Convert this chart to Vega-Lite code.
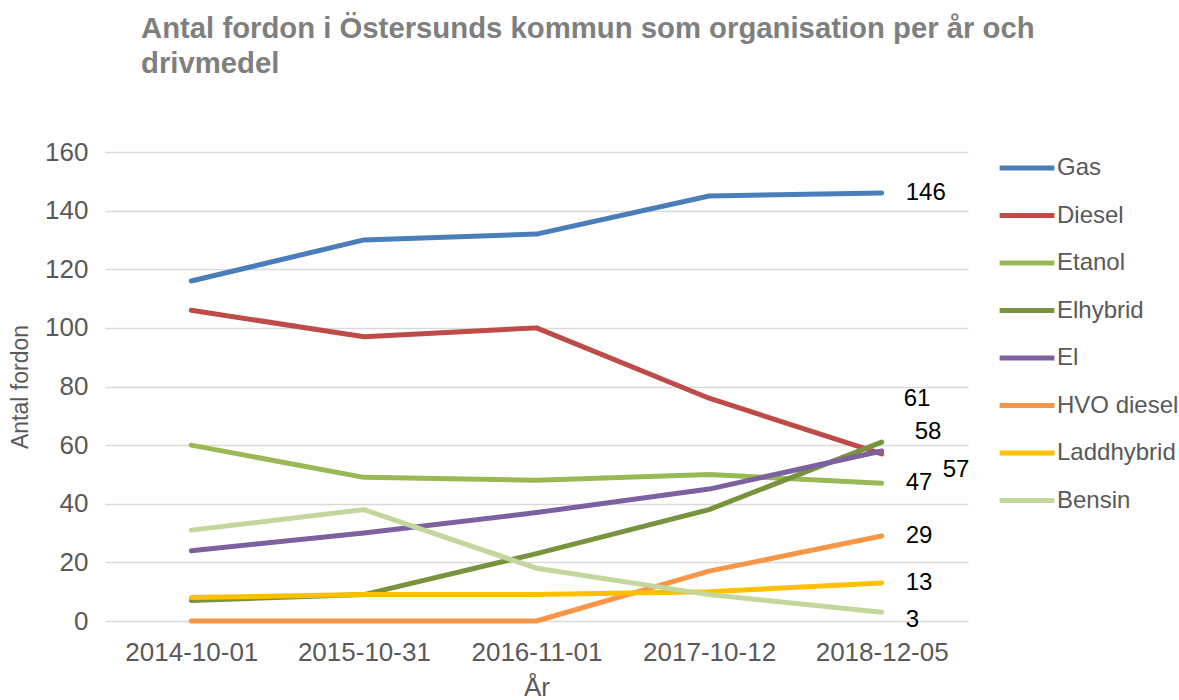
{
  "$schema": "https://vega.github.io/schema/vega-lite/v6.json",
  "width": 863,
  "height": 469,
  "autosize": {"type": "none"},
  "padding": {"left": 105, "top": 152, "right": 211, "bottom": 79},
  "background": "white",
  "config": {
    "view": {"stroke": null},
    "font": "Liberation Sans"
  },
  "title": {
    "text": ["Antal fordon i Östersunds kommun som organisation per år och", "drivmedel"],
    "anchor": "start",
    "frame": "group",
    "dx": 36,
    "offset": 59,
    "fontSize": 29.3,
    "fontWeight": "bold",
    "color": "#7f7f7f",
    "lineHeight": 35,
    "font": "Liberation Sans"
  },
  "data": {
    "values": [
      {"Datum": "2014-10-01", "Drivmedel": "Gas", "Antal": 116},
      {"Datum": "2015-10-31", "Drivmedel": "Gas", "Antal": 130},
      {"Datum": "2016-11-01", "Drivmedel": "Gas", "Antal": 132},
      {"Datum": "2017-10-12", "Drivmedel": "Gas", "Antal": 145},
      {"Datum": "2018-12-05", "Drivmedel": "Gas", "Antal": 146},
      {"Datum": "2014-10-01", "Drivmedel": "Diesel", "Antal": 106},
      {"Datum": "2015-10-31", "Drivmedel": "Diesel", "Antal": 97},
      {"Datum": "2016-11-01", "Drivmedel": "Diesel", "Antal": 100},
      {"Datum": "2017-10-12", "Drivmedel": "Diesel", "Antal": 76},
      {"Datum": "2018-12-05", "Drivmedel": "Diesel", "Antal": 57},
      {"Datum": "2014-10-01", "Drivmedel": "Etanol", "Antal": 60},
      {"Datum": "2015-10-31", "Drivmedel": "Etanol", "Antal": 49},
      {"Datum": "2016-11-01", "Drivmedel": "Etanol", "Antal": 48},
      {"Datum": "2017-10-12", "Drivmedel": "Etanol", "Antal": 50},
      {"Datum": "2018-12-05", "Drivmedel": "Etanol", "Antal": 47},
      {"Datum": "2014-10-01", "Drivmedel": "Elhybrid", "Antal": 7},
      {"Datum": "2015-10-31", "Drivmedel": "Elhybrid", "Antal": 9},
      {"Datum": "2016-11-01", "Drivmedel": "Elhybrid", "Antal": 23},
      {"Datum": "2017-10-12", "Drivmedel": "Elhybrid", "Antal": 38},
      {"Datum": "2018-12-05", "Drivmedel": "Elhybrid", "Antal": 61},
      {"Datum": "2014-10-01", "Drivmedel": "El", "Antal": 24},
      {"Datum": "2015-10-31", "Drivmedel": "El", "Antal": 30},
      {"Datum": "2016-11-01", "Drivmedel": "El", "Antal": 37},
      {"Datum": "2017-10-12", "Drivmedel": "El", "Antal": 45},
      {"Datum": "2018-12-05", "Drivmedel": "El", "Antal": 58},
      {"Datum": "2014-10-01", "Drivmedel": "HVO diesel", "Antal": 0},
      {"Datum": "2015-10-31", "Drivmedel": "HVO diesel", "Antal": 0},
      {"Datum": "2016-11-01", "Drivmedel": "HVO diesel", "Antal": 0},
      {"Datum": "2017-10-12", "Drivmedel": "HVO diesel", "Antal": 17},
      {"Datum": "2018-12-05", "Drivmedel": "HVO diesel", "Antal": 29},
      {"Datum": "2014-10-01", "Drivmedel": "Laddhybrid", "Antal": 8},
      {"Datum": "2015-10-31", "Drivmedel": "Laddhybrid", "Antal": 9},
      {"Datum": "2016-11-01", "Drivmedel": "Laddhybrid", "Antal": 9},
      {"Datum": "2017-10-12", "Drivmedel": "Laddhybrid", "Antal": 10},
      {"Datum": "2018-12-05", "Drivmedel": "Laddhybrid", "Antal": 13},
      {"Datum": "2014-10-01", "Drivmedel": "Bensin", "Antal": 31},
      {"Datum": "2015-10-31", "Drivmedel": "Bensin", "Antal": 38},
      {"Datum": "2016-11-01", "Drivmedel": "Bensin", "Antal": 18},
      {"Datum": "2017-10-12", "Drivmedel": "Bensin", "Antal": 9},
      {"Datum": "2018-12-05", "Drivmedel": "Bensin", "Antal": 3}
    ]
  },
  "encoding": {
    "x": {
      "field": "Datum",
      "type": "ordinal",
      "sort": null,
      "scale": {"type": "point", "padding": 0.5},
      "axis": {
        "title": "År",
        "labelAngle": 0,
        "labelFontSize": 26,
        "labelColor": "#595959",
        "labelPadding": 18,
        "titleFontSize": 26,
        "titleFontWeight": "normal",
        "titleColor": "#595959",
        "titlePadding": 9,
        "domain": false,
        "ticks": false,
        "grid": false
      }
    },
    "y": {
      "field": "Antal",
      "type": "quantitative",
      "scale": {"domain": [0, 160], "nice": false},
      "axis": {
        "title": "Antal fordon",
        "values": [0, 20, 40, 60, 80, 100, 120, 140, 160],
        "labelFontSize": 26,
        "labelColor": "#595959",
        "labelPadding": 17,
        "titleFontSize": 23,
        "titleFontWeight": "normal",
        "titleColor": "#595959",
        "titlePadding": 12,
        "domain": false,
        "ticks": false,
        "gridColor": "#d9d9d9",
        "gridWidth": 1.5
      }
    }
  },
  "layer": [
    {
      "mark": {"type": "line", "strokeWidth": 5, "strokeCap": "round", "strokeJoin": "round"},
      "encoding": {
        "color": {
          "field": "Drivmedel",
          "type": "nominal",
          "sort": ["Gas", "Diesel", "Etanol", "Elhybrid", "El", "HVO diesel", "Laddhybrid", "Bensin"],
          "scale": {
            "domain": ["Gas", "Diesel", "Etanol", "Elhybrid", "El", "HVO diesel", "Laddhybrid", "Bensin"],
            "range": ["#4a7ebb", "#be4b48", "#98b954", "#77933c", "#7d60a0", "#f79646", "#ffc000", "#c3d69b"]
          },
          "legend": {
            "title": null,
            "orient": "none",
            "legendX": 892,
            "legendY": -14,
            "symbolType": "stroke",
            "symbolSize": 3000,
            "symbolStrokeWidth": 5,
            "labelFontSize": 24,
            "labelColor": "#595959",
            "labelOffset": 0,
            "rowPadding": 5.5,
            "padding": 0
          }
        }
      }
    },
    {
      "transform": [
        {"filter": "datum.Datum == '2018-12-05' && indexof(['Gas','Etanol','HVO diesel','Laddhybrid'], datum.Drivmedel) >= 0"}
      ],
      "mark": {"type": "text", "align": "left", "baseline": "middle", "dx": 24, "fontSize": 24, "color": "#000000"},
      "encoding": {"text": {"field": "Antal", "type": "quantitative"}}
    },
    {
      "transform": [{"filter": "datum.Datum == '2018-12-05' && datum.Drivmedel == 'Bensin'"}],
      "mark": {"type": "text", "align": "left", "baseline": "middle", "dx": 24, "dy": 8, "fontSize": 24, "color": "#000000"},
      "encoding": {"text": {"field": "Antal", "type": "quantitative"}}
    },
    {
      "transform": [{"filter": "datum.Datum == '2018-12-05' && datum.Drivmedel == 'Elhybrid'"}],
      "mark": {"type": "text", "align": "left", "baseline": "middle", "dx": 22, "dy": -43, "fontSize": 24, "color": "#000000"},
      "encoding": {"text": {"field": "Antal", "type": "quantitative"}}
    },
    {
      "transform": [{"filter": "datum.Datum == '2018-12-05' && datum.Drivmedel == 'El'"}],
      "mark": {"type": "text", "align": "left", "baseline": "middle", "dx": 33, "dy": -19, "fontSize": 24, "color": "#000000"},
      "encoding": {"text": {"field": "Antal", "type": "quantitative"}}
    },
    {
      "transform": [{"filter": "datum.Datum == '2018-12-05' && datum.Drivmedel == 'Diesel'"}],
      "mark": {"type": "text", "align": "left", "baseline": "middle", "dx": 61, "dy": 16, "fontSize": 24, "color": "#000000"},
      "encoding": {"text": {"field": "Antal", "type": "quantitative"}}
    }
  ]
}
